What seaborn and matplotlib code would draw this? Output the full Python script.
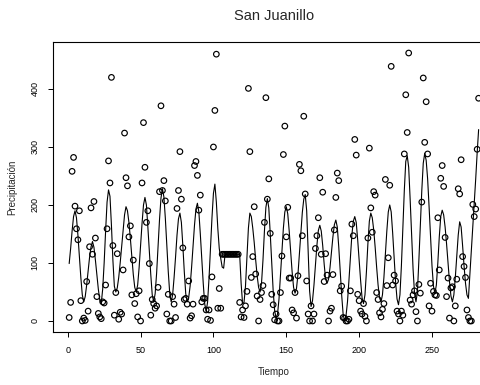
import matplotlib
matplotlib.use("Agg")
import matplotlib.pyplot as plt
import numpy as np
import pandas as pd
import seaborn as sns

# ---------------- data ----------------
titulo = "San Juanillo"
etiqueta_x = "Tiempo"
etiqueta_y = "Precipitación"
x_ticks = [0, 50, 100, 150, 200, 250]
y_ticks = [0, 100, 200, 300, 400]

tiempo = list(range(1, 283))

precip = [
    6, 32, 258, 282, 198, 159, 140, 190, 35, 0,
    5, 1, 68, 17, 128, 195, 115, 206, 143, 42,
    13, 7, 4, 33, 31, 62, 159, 276, 238, 420,
    130, 10, 49, 116, 3, 15, 12, 88, 324, 247,
    233, 145, 164, 45, 105, 30, 47, 7, 52, 0,
    238, 342, 265, 170, 190, 99, 10, 37, 30, 22,
    26, 58, 223, 371, 225, 242, 207, 12, 46, 0,
    0, 42, 29, 6, 194, 225, 292, 210, 126, 37,
    39, 29, 69, 5, 9, 29, 268, 275, 251, 191,
    217, 33, 39, 39, 19, 3, 19, 1, 76, 300,
    363, 460, 22, 56, 22, 115, 115, 115, 115, 115,
    115, 115, 115, 115, 115, 115, 115, 32, 7, 19,
    6, 26, 51, 401, 292, 75, 111, 197, 81, 43,
    0, 37, 49, 61, 170, 385, 210, 245, 151, 46,
    28, 2, 12, 0, 0, 49, 112, 287, 336, 145,
    196, 74, 74, 19, 14, 49, 5, 78, 270, 259,
    147, 353, 219, 69, 12, 0, 26, 0, 12, 125,
    147, 178, 247, 115, 222, 68, 116, 79, 0, 17,
    22, 80, 157, 213, 255, 242, 52, 60, 6, 5,
    0, 0, 3, 52, 167, 147, 313, 286, 46, 35,
    17, 12, 30, 8, 0, 143, 298, 195, 153, 223,
    217, 49, 37, 14, 7, 20, 30, 244, 61, 109,
    234, 439, 62, 79, 69, 17, 12, 0, 17, 10,
    288, 390, 325, 462, 36, 29, 45, 52, 16, 0,
    63, 48, 205, 419, 308, 378, 288, 26, 65, 17,
    51, 45, 44, 178, 88, 246, 268, 232, 144, 42,
    74, 5, 57, 59, 0, 26, 72, 228, 219, 278,
    111, 94, 75, 19, 6, 0, 0, 201, 180, 193,
    296, 384,
]

ajuste = [
    99, 125, 155, 180, 190, 178, 148, 112, 75, 45,
    33, 42, 62, 86, 110, 128, 137, 127, 105, 80,
    55, 36, 30, 55, 100, 155, 205, 226, 215, 165,
    105, 60, 50, 57, 75, 100, 128, 158, 183, 197,
    190, 170, 142, 110, 80, 58, 50, 62, 92, 130,
    168, 200, 213, 200, 162, 120, 80, 45, 33, 47,
    82, 128, 175, 212, 228, 214, 177, 130, 85, 48,
    33, 45, 75, 110, 148, 176, 186, 170, 130, 85,
    47, 33, 40, 60, 92, 128, 165, 193, 203, 188,
    150, 108, 65, 30, 16, 33, 75, 125, 178, 220,
    236, 205, 160, 125, 108, 93, 91, 115, 115, 115,
    115, 115, 115, 115, 115, 115, 115, 115, 65, 30,
    32, 60, 110, 160, 186, 180, 160, 135, 105, 78,
    58, 50, 65, 105, 155, 196, 211, 195, 150, 100,
    52, 18, 5, 12, 38, 78, 120, 160, 188, 197,
    185, 155, 120, 85, 58, 48, 56, 80, 115, 152,
    187, 210, 218, 190, 122, 52, 25, 35, 62, 95,
    130, 156, 165, 155, 130, 98, 72, 65, 72, 92,
    118, 145, 166, 174, 162, 128, 87, 45, 12, 0,
    9, 33, 70, 110, 148, 172, 180, 170, 140, 105,
    70, 40, 30, 45, 85, 133, 172, 186, 178, 157,
    127, 93, 62, 40, 33, 45, 75, 115, 155, 188,
    200, 188, 152, 110, 68, 38, 28, 45, 95, 160,
    225, 275, 285, 265, 210, 150, 90, 48, 33, 50,
    105, 165, 225, 272, 289, 277, 245, 197, 145, 95,
    60, 48, 62, 100, 145, 180, 191, 183, 162, 133,
    100, 68, 43, 33, 45, 75, 112, 148, 171, 162,
    130, 95, 65, 45, 39, 80, 120, 160, 200, 245,
    290, 330,
]

df = pd.DataFrame({"Tiempo": tiempo, "Precipitacion": precip, "Ajuste": ajuste})

# ---------------- style ----------------
sns.set_style("ticks")
plt.rcParams["font.family"] = ["Liberation Sans", "DejaVu Sans"]
plt.rcParams["axes.linewidth"] = 0.8

W, H = 481, 385
fig = plt.figure(figsize=(W / 100, H / 100), dpi=100)
left_px, right_px, top_px, bot_px = 52.8, 495.0, 42.3, 331.7
ax = fig.add_axes([left_px / W, 1 - bot_px / H, (right_px - left_px) / W, (bot_px - top_px) / H])

sns.lineplot(data=df, x="Tiempo", y="Ajuste", ax=ax, color="black", linewidth=0.8)
sns.scatterplot(data=df, x="Tiempo", y="Precipitacion", ax=ax, s=16, marker="o",
                linewidth=0.85, zorder=3)
pts = ax.collections[-1]
pts.set_facecolor("none")
pts.set_edgecolor("black")

n = len(tiempo)
ax.set_xlim(1 - 0.04 * (n - 1), n + 0.04 * (n - 1))
ax.set_ylim(-0.04 * 462, 462 * 1.04)
ax.set_xticks(x_ticks)
ax.set_yticks(y_ticks)
ax.set_xticklabels([str(v) for v in x_ticks])
ax.set_yticklabels([str(v) for v in y_ticks])
ax.tick_params(direction="out", length=3.6, width=0.7, labelsize=6.5, colors="black")
ax.tick_params(axis="x", pad=7)
ax.tick_params(axis="y", pad=6)
for lab in ax.get_yticklabels():
    lab.set_rotation(90)
    lab.set_va("center")
ax.set_xlabel("")
ax.set_ylabel("")
for s in ax.spines.values():
    s.set_color("black")
    s.set_linewidth(0.8)

cx = (left_px + right_px) / 2 / W
fig.text(cx, 1 - 16 / H, titulo, ha="center", va="center", fontsize=10.5)
fig.text(cx, 1 - 372 / H, etiqueta_x, ha="center", va="center", fontsize=7)
fig.text(12 / W, 1 - 187 / H, etiqueta_y, ha="center", va="center", rotation=90, fontsize=7)

fig.savefig("out.png", dpi=100)
